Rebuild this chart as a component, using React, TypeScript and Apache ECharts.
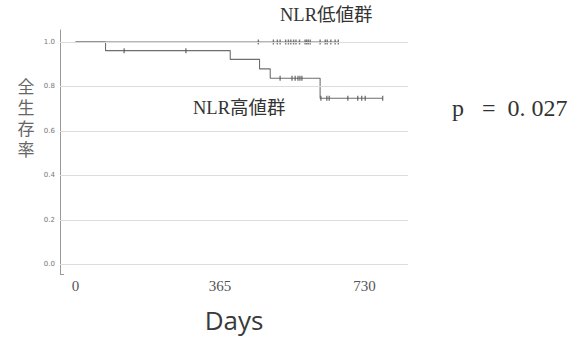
import React, { useEffect, useRef } from "react";
import * as echarts from "echarts";

// Kaplan–Meier curves (days, survival)
const highStepDays = [0, 76, 391, 465, 492, 618, 776];
const highStepSurv = [1.0, 0.961, 0.922, 0.879, 0.837, 0.747, 0.747];
const highCensorDays = [123, 279, 517, 547, 555, 562, 567, 572, 620, 635, 641, 688, 713, 723, 732, 776];
const highCensorSurv = [0.961, 0.961, 0.837, 0.837, 0.837, 0.837, 0.837, 0.837, 0.747, 0.747, 0.747, 0.747, 0.747, 0.747, 0.747, 0.747];

const lowStepDays = [0, 664];
const lowStepSurv = [1.0, 1.0];
const lowCensorDays = [462, 500, 510, 517, 531, 538, 544, 551, 557, 566, 580, 584, 588, 593, 618, 631, 636, 645, 656, 664];

const xTicks = [0, 365, 730];
const yTicks = [0, 0.2, 0.4, 0.6, 0.8, 1.0];

const yTitle = "全生存率";
const xTitle = "Days";
const lowLabel = "NLR低値群";
const highLabel = "NLR高値群";
const pText = "p   =  0. 027";

export default function App() {
  const ref = useRef<HTMLDivElement>(null);
  useEffect(() => {
    document.body.style.margin = "0";
    if (!ref.current) return;
    const chart = echarts.init(ref.current, null, { renderer: "svg" });
    const lineColor = "#6e6e6e";
    const markColor = "#5a5a5a";
    const yTitleChars = yTitle.split("").map((ch, i) => ({
      type: "text",
      x: 26,
      y: 85 + i * 21,
      style: {
        text: ch,
        fontFamily: "Noto Sans CJK JP, sans-serif",
        fontSize: 17,
        fill: "#666",
        align: "center",
        verticalAlign: "middle",
      },
    }));
    chart.setOption({
      animation: false,
      backgroundColor: "#ffffff",
      grid: { left: 60, right: 173, top: 30, bottom: 64 },
      xAxis: {
        type: "value",
        min: -39,
        max: 840,
        axisLine: { show: false },
        axisTick: { show: false },
        splitLine: { show: false },
        axisLabel: {
          customValues: xTicks,
          fontFamily: "Liberation Serif, serif",
          fontSize: 15,
          color: "#555",
          margin: 4,
        },
        name: xTitle,
        nameLocation: "middle",
        nameGap: 33,
        nameTextStyle: { fontFamily: "Open Sans, Noto Sans, sans-serif", fontSize: 26, color: "#3a3a3a" },
      },
      yAxis: {
        type: "value",
        min: -0.0436,
        max: 1.054,
        axisLine: { show: true, onZero: false, lineStyle: { color: "#999", width: 1 } },
        axisTick: { show: false },
        splitLine: { show: false },
        axisLabel: {
          customValues: yTicks,
          formatter: (v: number) => v.toFixed(1),
          fontFamily: "DejaVu Sans, sans-serif",
          fontSize: 7,
          color: "#777",
          margin: 5,
        },
      },
      series: [
        {
          type: "line",
          data: [],
          z: 1,
          silent: true,
          markLine: {
            silent: true,
            symbol: "none",
            label: { show: false },
            lineStyle: { color: "#dcdcdc", width: 1, type: "solid" },
            data: yTicks.map((v) => ({ yAxis: v })),
          },
        },
        {
          name: lowLabel,
          type: "line",
          step: "end",
          z: 3,
          showSymbol: false,
          lineStyle: { color: lineColor, width: 1.1 },
          data: lowStepDays.map((d, i) => [d, lowStepSurv[i]]),
        },
        {
          name: highLabel,
          type: "line",
          step: "end",
          z: 3,
          showSymbol: false,
          lineStyle: { color: lineColor, width: 1.1 },
          data: highStepDays.map((d, i) => [d, highStepSurv[i]]),
        },
        {
          type: "scatter",
          z: 4,
          symbol: "rect",
          symbolSize: [1.4, 5],
          itemStyle: { color: markColor },
          data: lowCensorDays.map((d) => [d, 1.0]),
        },
        {
          type: "scatter",
          z: 4,
          symbol: "rect",
          symbolSize: [1.4, 5],
          itemStyle: { color: markColor },
          data: highCensorDays.map((d, i) => [d, highCensorSurv[i]]),
        },
      ],
      graphic: [
        ...yTitleChars,
        {
          type: "text",
          left: 280,
          top: 6,
          style: {
            text: lowLabel,
            fontFamily: "Liberation Serif, Noto Sans CJK JP, serif",
            fontSize: 18.5,
            fill: "#333",
          },
        },
        {
          type: "text",
          left: 193,
          top: 99,
          style: {
            text: highLabel,
            fontFamily: "Liberation Serif, Noto Sans CJK JP, serif",
            fontSize: 18.5,
            fill: "#333",
          },
        },
        {
          type: "text",
          left: 452,
          top: 96,
          style: {
            text: pText,
            fontFamily: "Liberation Serif, serif",
            fontSize: 24,
            fill: "#333",
          },
        },
        {
          type: "line",
          shape: { x1: 60, y1: 274.5, x2: 64, y2: 274.5 },
          style: { stroke: "#999", lineWidth: 1 },
        },
      ],
    });
    return () => chart.dispose();
  }, []);
  return <div ref={ref} style={{ width: 581, height: 338 }} />;
}
